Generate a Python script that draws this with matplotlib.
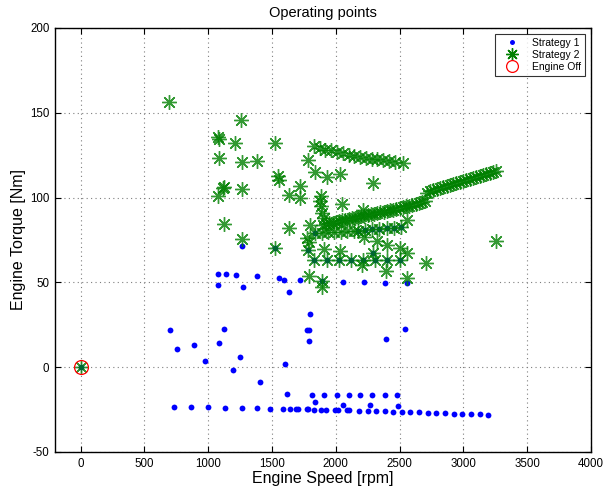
import matplotlib
matplotlib.use("Agg")
import matplotlib.pyplot as plt

plt.rcParams['font.family'] = ['Liberation Sans', 'DejaVu Sans']
plt.rcParams['axes.unicode_minus'] = False

# Strategy 1 operating points (speed in rpm, torque in Nm)
s1_speed = [0,
            699, 757, 890, 975, 1082, 1127,
            1080, 1080, 1137, 1215, 1270, 1382, 1247, 1192, 1406,
            1552, 1594, 1635, 1716, 1604, 1620, 1774, 1800, 1794, 1787,
            2053, 2222, 2389, 2556, 1891, 2397, 2540,
            1265, 1521, 1779, 2295,
            1833, 1930, 2029, 2123, 2217, 2311, 2405, 2504,
            1839, 2178, 2230, 2282, 2342, 2400, 2457, 2509,
            1815, 1909, 2006, 2100, 2193, 2287, 2384, 2478,
            1839, 2055, 2269, 2491,
            730, 863, 999, 1132, 1265, 1385, 1487, 1586, 1643, 1688, 1706,
            1774, 1783, 1833, 1886, 1923, 1993, 2017, 2087, 2107, 2181,
            2251, 2316, 2384, 2449, 2520, 2584, 2653, 2720, 2788, 2856,
            2924, 2991, 3059, 3127, 3192]
s1_torque = [0,
             22.0, 10.8, 12.8, 3.7, 14.3, 22.6,
             55.2, 48.3, 55.2, 54.4, 47.0, 53.5, 6.0, -1.8, -9.0,
             52.5, 51.7, 44.2, 51.5, 1.8, -15.7, 22.2, 31.6, 15.3, 22.0,
             50.3, 50.1, 49.9, 49.7, 50.7, 16.9, 22.6,
             71.5, 70.3, 69.0, 67.6,
             63.3, 63.3, 63.3, 63.3, 63.3, 63.3, 63.3, 63.3,
             79.0, 80.6, 81.0, 81.2, 81.6, 82.0, 82.3, 82.5,
             -16.3, -16.5, -16.5, -16.5, -16.5, -16.5, -16.5, -16.5,
             -20.8, -22.0, -22.4, -22.8,
             -23.6, -23.6, -23.7, -23.9, -24.0, -24.1, -24.4, -24.6, -24.6, -24.7, -24.7,
             -24.8, -24.8, -25.0, -25.0, -25.1, -25.3, -25.3, -25.4, -25.5, -25.6,
             -25.8, -25.9, -26.0, -26.2, -26.4, -26.5, -26.7, -26.9, -27.0, -27.2,
             -27.4, -27.5, -27.7, -27.8, -28.0]

# Strategy 2 operating points
s2_speed = [0,
            696, 1260, 1077, 1082, 1213, 1521, 1082, 1265, 1382, 1779, 1834,
            1930, 2037, 1547, 1552, 1122, 1117, 1077, 1268, 1630, 1716, 1716,
            1886, 1880, 1888, 1891, 1904, 2052, 2290, 2217, 2556, 1122, 1262,
            1632, 1521, 1800, 1774, 1790, 1787, 1891, 1891,
            2222, 2321, 2400, 2504, 2556, 2034, 1904, 1779, 2295, 2204, 2394,
            2706, 2556, 3253,
            1833, 1930, 2029, 2123, 2217, 2311, 2405, 2504,
            1839, 1890, 1940, 1990, 2040, 2090, 2140, 2178, 2230, 2282, 2342,
            2400, 2457, 2509,
            1826, 1873, 1917, 1961, 2008, 2055, 2100, 2144, 2191, 2238, 2282,
            2327, 2373, 2418, 2465, 2525,
            1900, 1925, 1950, 1975, 2000, 2025, 2050, 2075, 2100, 2125, 2150,
            2175, 2200, 2225, 2250, 2275, 2300, 2325, 2350, 2375, 2400, 2425,
            2450, 2475, 2500, 2525, 2550, 2575, 2600, 2625, 2650, 2675, 2700,
            2712, 2738, 2764, 2790, 2816, 2842, 2868, 2894, 2920, 2946, 2972,
            2998, 3024, 3050, 3076, 3102, 3128, 3154, 3180, 3206, 3232, 3258]
s2_torque = [0,
             156.4, 146.0, 135.6, 134.5, 131.9, 132.0, 123.2, 121.2, 121.5, 121.9, 114.8,
             111.9, 114.0, 113.0, 110.5, 106.5, 105.6, 101.0, 104.8, 101.8, 106.6, 99.8,
             100.8, 97.9, 94.9, 91.0, 87.7, 96.0, 108.9, 92.4, 86.5, 84.7, 75.5,
             82.2, 70.3, 84.0, 76.1, 74.0, 54.0, 50.7, 47.2,
             76.7, 74.3, 72.3, 70.3, 67.4, 68.4, 69.9, 69.0, 67.6, 60.5, 56.6,
             61.5, 52.6, 74.7,
             63.3, 63.3, 63.3, 63.3, 63.3, 63.3, 63.3, 63.3,
             79.0, 79.3, 79.6, 79.8, 80.0, 80.2, 80.4, 80.6, 81.0, 81.2, 81.6,
             82.0, 82.3, 82.5,
             130.3, 129.3, 128.3, 127.8, 126.8, 126.2, 125.4, 124.8, 124.2, 123.6, 123.0,
             122.6, 122.0, 121.6, 121.2, 120.5,
             84.0, 84.4, 84.8, 85.3, 85.7, 86.1, 86.5, 86.9, 87.3, 87.7, 88.1,
             88.5, 88.9, 89.3, 89.7, 90.1, 90.5, 90.9, 91.3, 91.7, 92.1, 92.5,
             92.9, 93.4, 93.8, 94.3, 94.8, 95.3, 95.8, 96.3, 96.8, 97.3, 97.8,
             103.0, 103.6, 104.2, 104.8, 105.4, 106.0, 106.6, 107.2, 107.8, 108.4, 109.0,
             109.6, 110.2, 110.8, 111.4, 112.0, 112.6, 113.2, 113.8, 114.4, 115.0, 115.6]

# Engine switched off
off_speed = [0]
off_torque = [0]

x_ticks = [0, 500, 1000, 1500, 2000, 2500, 3000, 3500, 4000]
y_ticks = [-50, 0, 50, 100, 150, 200]

fig = plt.figure(figsize=(6.03, 4.91), dpi=100)
ax = fig.add_axes([55 / 603, 39 / 491, 536 / 603, 424 / 491])

asterisk = (8, 2, 0)
ax.plot(s1_speed, s1_torque, linestyle='none', marker='o', markersize=4.2,
        color=(0, 0, 1), markeredgewidth=0, label='Strategy 1', zorder=3)
ax.plot(s2_speed, s2_torque, linestyle='none', marker=asterisk, markersize=10.5,
        markeredgecolor=(0, 0.5, 0), markerfacecolor='none', markeredgewidth=1.0,
        alpha=0.8, label='Strategy 2', zorder=4)
ax.plot(off_speed, off_torque, linestyle='none', marker='o', markersize=10,
        markeredgecolor=(1, 0, 0), markerfacecolor='none', markeredgewidth=0.9,
        label='Engine Off', zorder=5)

ax.set_xlim(-200, 4000)
ax.set_ylim(-50, 200)
ax.set_xticks(x_ticks)
ax.set_yticks(y_ticks)
ax.tick_params(direction='in', top=True, right=True, length=4, width=0.8,
               labelsize=8.3, pad=4)
ax.grid(True, color='#7f7f7f', linestyle=(0, (1, 3)), linewidth=0.8)
for s in ax.spines.values():
    s.set_linewidth(1.0)

ax.set_title('Operating points', fontsize=10.5, pad=8)
ax.set_xlabel('Engine Speed [rpm]', fontsize=11.5, labelpad=1)
ax.set_ylabel('Engine Torque [Nm]', fontsize=11.5, labelpad=3)

leg = ax.legend(loc='upper right', fontsize=7.5, frameon=True, fancybox=False,
                edgecolor='black', handlelength=2.6, handletextpad=0.6,
                borderpad=0.35, labelspacing=0.2, borderaxespad=0.6,
                markerscale=0.85)
leg.get_frame().set_linewidth(0.8)
for h in leg.legend_handles:
    h.set_alpha(1)

fig.savefig('out.png', dpi=100)
